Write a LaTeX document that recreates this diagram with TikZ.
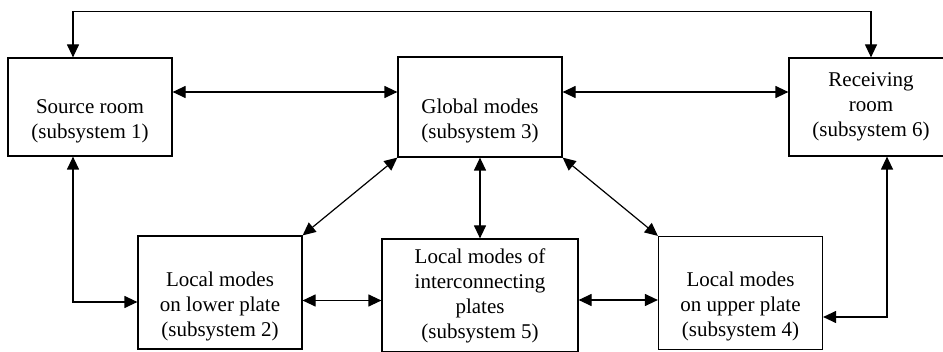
\documentclass[tikz,border=0pt]{standalone}
\usepackage{fontspec}
\setmainfont{Liberation Serif}
\usetikzlibrary{arrows.meta}

\begin{document}
\begin{tikzpicture}[x=1pt,y=1pt,
    box/.style={draw, line width=1.2pt, inner sep=0pt, align=center,
      minimum width=164pt, font=\fontsize{21}{25}\selectfont},
    link/.style={line width=1.2pt, {Triangle[length=13pt,width=12pt]}-{Triangle[length=13pt,width=12pt]}}]
  \useasboundingbox (0,0) rectangle (943,351);
  % Subsystem boxes (blank first line keeps the text low as in the original)
  \node[box, minimum height=98pt] (src) at (90,244) {\strut\\Source room\\(subsystem 1)};
  \node[box, minimum height=100pt] (glob) at (480,244) {\strut\\Global modes\\(subsystem 3)};
  \node[box, minimum height=98pt] (recv) at (871,244) {Receiving\\room\\(subsystem 6)};
  \node[box, minimum height=113pt] (lower) at (220,58.5) {\strut\\Local modes\\on lower plate\\(subsystem 2)};
  \node[box, minimum height=113pt, minimum width=196pt] (inter) at (480,55.5)
    {Local modes of\\interconnecting\\plates\\(subsystem 5)};
  \node[box, minimum height=113pt] (upper) at (740.5,58) {\strut\\Local modes\\on upper plate\\(subsystem 4)};
  % Couplings between the rooms and the global modes
  \draw[link] ([xshift=-17pt]src.north) |- ([yshift=45pt]glob.north) -| (recv.north);
  \draw[link] ([yshift=15pt]src.east) -- ([yshift=15pt]glob.west);
  \draw[link] ([yshift=15pt]glob.east) -- ([yshift=15pt]recv.west);
  \draw[link] ([xshift=-17pt]src.south) |- ([yshift=-9.5pt]lower.west);
  \draw[link] ([xshift=16pt]recv.south) |- ([yshift=-24pt]upper.east);
  % Couplings of the plates
  \draw[link] (glob.south west) -- (lower.north east);
  \draw[link] (glob.south) -- (inter.north);
  \draw[link] (glob.south east) -- (upper.north west);
  \draw[link] ([yshift=-8pt]lower.east) -- ([yshift=-5pt]inter.west);
  \draw[link] ([yshift=-4.5pt]inter.east) -- ([yshift=-7pt]upper.west);
\end{tikzpicture}
\end{document}
